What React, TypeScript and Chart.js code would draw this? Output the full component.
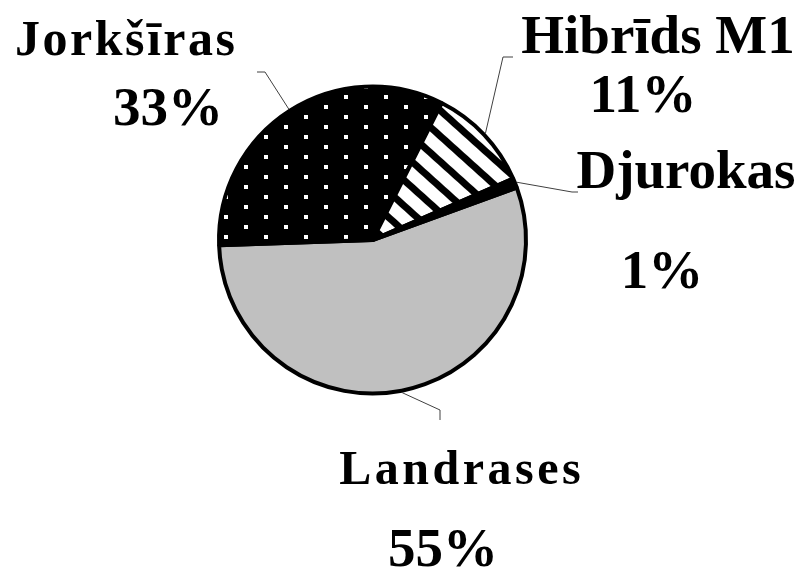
import React, { useEffect, useRef } from "react";
import { Chart, registerables } from "chart.js";

Chart.register(...registerables);

const categories = ["Landrases", "Jorkšīras", "Hibrīds M1", "Djurokas"];
const shares = [55, 33, 11, 1];

function makeDotPattern(): CanvasPattern | string {
  const c = document.createElement("canvas");
  c.width = 40;
  c.height = 20;
  const g = c.getContext("2d");
  if (!g) return "#000";
  g.fillStyle = "#000";
  g.fillRect(0, 0, 40, 20);
  g.fillStyle = "#fff";
  g.fillRect(4, 5, 4, 4);
  g.fillRect(24, 15, 4, 4);
  const p = g.createPattern(c, "repeat");
  return p || "#000";
}

function makeStripePattern(): CanvasPattern | string {
  const c = document.createElement("canvas");
  c.width = 19;
  c.height = 19;
  const g = c.getContext("2d");
  if (!g) return "#fff";
  g.fillStyle = "#fff";
  g.fillRect(0, 0, 19, 19);
  g.fillStyle = "#000";
  g.fillRect(0, 12, 19, 7);
  const p = g.createPattern(c, "repeat");
  if (!p) return "#fff";
  try {
    p.setTransform(new DOMMatrix().rotateSelf(42));
  } catch (e) {
    /* ignore */
  }
  return p;
}

// label layout
const labelLayout = [
  { nx: 460, ny: 484, px: 443, py: 566, size: 48, spacing: 3.5 },
  { nx: 125, ny: 55, px: 168, py: 125, size: 50, spacing: 2.5 },
  { nx: 658, ny: 53, px: 643, py: 112, size: 55, spacing: 0 },
  { nx: 686, ny: 188, px: 662, py: 288, size: 55, spacing: 0 },
];

// leader polyline tails (elbow, end)
const leaderTails = [
  [[440, 410], [440, 420]],
  [[265, 72], [257, 72]],
  [[503, 57], [513, 57]],
  [[572, 192], [578, 192]],
];

const FONT = "'Liberation Serif', 'Times New Roman', serif";

function drawSpaced(ctx: CanvasRenderingContext2D, text: string, cx: number, y: number, spacing: number) {
  const chars = Array.from(text);
  const widths = chars.map((ch) => ctx.measureText(ch).width);
  const total = widths.reduce((a, b) => a + b, 0) + spacing * (chars.length - 1);
  let x = cx - total / 2;
  ctx.textAlign = "left";
  chars.forEach((ch, i) => {
    ctx.fillText(ch, x, y);
    x += widths[i] + spacing;
  });
}

const labelPlugin = {
  id: "labelPlugin",
  afterDraw(chart: any) {
    const ctx: CanvasRenderingContext2D = chart.ctx;
    const meta = chart.getDatasetMeta(0);
    ctx.save();
    ctx.strokeStyle = "#404040";
    ctx.lineWidth = 1;
    meta.data.forEach((arc: any, i: number) => {
      const { x, y, startAngle, endAngle, outerRadius } = arc.getProps(
        ["x", "y", "startAngle", "endAngle", "outerRadius"],
        true
      );
      const mid = (startAngle + endAngle) / 2;
      const r = outerRadius + 2;
      const sx = x + Math.cos(mid) * r;
      const sy = y + Math.sin(mid) * r;
      const tail = leaderTails[i];
      ctx.beginPath();
      ctx.moveTo(sx, sy);
      ctx.lineTo(tail[0][0], tail[0][1]);
      ctx.lineTo(tail[1][0], tail[1][1]);
      ctx.stroke();
    });
    ctx.fillStyle = "#000";
    ctx.textBaseline = "alphabetic";
    categories.forEach((name, i) => {
      const L = labelLayout[i];
      ctx.font = `bold ${L.size}px ${FONT}`;
      if (L.spacing > 0) {
        drawSpaced(ctx, name, L.nx, L.ny, L.spacing);
      } else {
        ctx.textAlign = "center";
        ctx.fillText(name, L.nx, L.ny);
      }
      ctx.font = `bold 55px ${FONT}`;
      ctx.textAlign = "center";
      ctx.fillText(`${shares[i]}%`, L.px, L.py);
    });
    ctx.restore();
  },
};

export default function App() {
  const ref = useRef<HTMLCanvasElement | null>(null);
  useEffect(() => {
    if (!ref.current) return;
    const colors = ["#c0c0c0", makeDotPattern(), makeStripePattern(), "#000000"];
    const chart = new Chart(ref.current, {
      type: "pie",
      data: {
        labels: categories,
        datasets: [
          {
            data: shares,
            backgroundColor: colors as any,
            borderColor: "#000",
            borderWidth: 4,
          },
        ],
      },
      options: {
        responsive: false,
        animation: false,
        events: [],
        rotation: 70,
        radius: 153.5,
        layout: { padding: { left: 100, right: 161, top: 80, bottom: 170 } },
        plugins: {
          legend: { display: false },
          tooltip: { enabled: false },
          title: { display: false },
        },
      },
      plugins: [labelPlugin],
    });
    return () => chart.destroy();
  }, []);
  return (
    <div style={{ position: "absolute", left: 0, top: 0, width: 806, height: 570, background: "#fff" }}>
      <canvas ref={ref} width={806} height={570} style={{ display: "block" }} />
    </div>
  );
}
